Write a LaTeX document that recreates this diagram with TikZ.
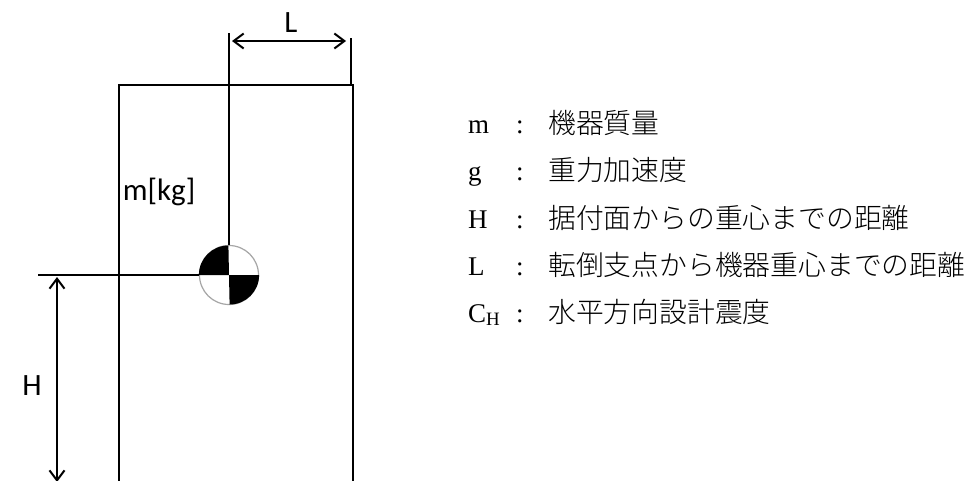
\documentclass[tikz,border=0pt]{standalone}
\usepackage{fontspec}
\usepackage{tikz}
\usetikzlibrary{arrows.meta}
\setmainfont{Liberation Serif}
\newfontfamily\cjkfont{Noto Sans CJK JP Light}
\newfontfamily\dimfont{Carlito}
\tikzset{
    body-line/.style = {line width=1.8pt, black},
    dim-line/.style = {line width=1.8pt, black, {Straight Barb[length=10pt,width=15pt,line width=2pt]}-{Straight Barb[length=10pt,width=15pt,line width=2pt]}},
    dim-label/.style = {font=\dimfont\fontsize{31}{31}\selectfont, text=black, inner sep=0pt},
    legend-latin/.style = {font=\fontsize{27}{27}\selectfont, anchor=base west, inner sep=0pt},
    legend-text/.style = {font=\cjkfont\fontsize{27.8}{27.8}\selectfont, anchor=base west, inner sep=0pt},
}

\begin{document}
\begin{tikzpicture}[x=1pt, y=-1pt]
\useasboundingbox (0,0) rectangle (976,480);
\fill[white] (0,0) rectangle (976,480);

% device body, open at the floor
\coordinate (body-bl) at (119,484);
\coordinate (body-tl) at (119,85);
\coordinate (body-tr) at (353,85);
\coordinate (body-br) at (353,484);
\draw[body-line] (body-bl) -- (body-tl) -- (body-tr) -- (body-br);

% centre of gravity
\node [circle, draw=gray!70, line width=1.2pt, fill=white, minimum size=59pt, inner sep=0pt] (cg) at (229,275) {};
\fill (cg.center) -- (cg.west) arc[start angle=180, end angle=90, radius=29.5pt] -- cycle;
\fill (cg.center) -- (cg.east) arc[start angle=0, end angle=-90, radius=29.5pt] -- cycle;

% extension lines
\coordinate (cg-top) at (229,33);
\coordinate (edge-top) at (351,38);
\coordinate (edge-low) at (351,85);
\coordinate (floor-left) at (38,275);
\draw[body-line] (cg-top) -- (cg.north);
\draw[body-line] (edge-top) -- (edge-low);
\draw[body-line] (floor-left) -- (cg.west);

% dimensions
\coordinate (l-start) at (232,41);
\coordinate (l-end) at (346,41);
\coordinate (h-start) at (57,277);
\coordinate (h-end) at (57,482);
\draw[dim-line] (l-start) -- (l-end);
\draw[dim-line] (h-start) -- (h-end);
\node [dim-label] (l-label) at (291,23) {L};
\node [dim-label] (h-label) at (32,386) {H};
\node [dim-label] (mass-label) at (159,192) {m[kg]};

% legend
\node [legend-latin] (sym-m) at (468,133) {m};
\node [legend-latin] (sep-m) at (516,133) {:};
\node [legend-text] (txt-m) at (548,133) {機器質量};
\node [legend-latin] (sym-g) at (468,180) {g};
\node [legend-latin] (sep-g) at (516,180) {:};
\node [legend-text] (txt-g) at (548,180) {重力加速度};
\node [legend-latin] (sym-h) at (468,228) {H};
\node [legend-latin] (sep-h) at (516,228) {:};
\node [legend-text] (txt-h) at (548,228) {据付面からの重心までの距離};
\node [legend-latin] (sym-l) at (468,275) {L};
\node [legend-latin] (sep-l) at (516,275) {:};
\node [legend-text] (txt-l) at (548,275) {転倒支点から機器重心までの距離};
\node [legend-latin] (sym-ch) at (468,322) {C\textsubscript{H}};
\node [legend-latin] (sep-ch) at (516,322) {:};
\node [legend-text] (txt-ch) at (548,322) {水平方向設計震度};
\end{tikzpicture}
\end{document}
